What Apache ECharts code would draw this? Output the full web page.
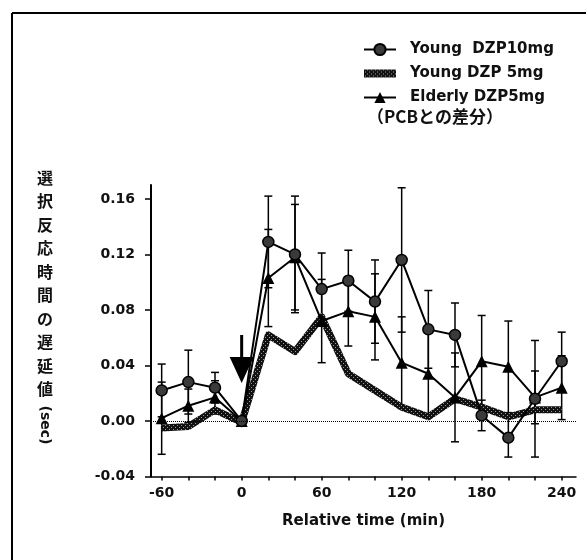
<!DOCTYPE html>
<html>
<head>
<meta charset="utf-8">
<script src="https://cdn.jsdelivr.net/npm/echarts@6/dist/echarts.min.js"></script>
<style>
html,body{margin:0;padding:0;background:#fff;}
#chart{width:586px;height:560px;}
</style>
</head>
<body>
<div id="chart"></div>
<script>
// ---- data ----
const times = [-60, -40, -20, 0, 20, 40, 60, 80, 100, 120, 140, 160, 180, 200, 220, 240];
const young10 = [0.022, 0.028, 0.024, 0.000, 0.129, 0.120, 0.095, 0.101, 0.086, 0.116, 0.066, 0.062, 0.004, -0.012, 0.016, 0.043];
const young10Err = [0.019, 0.023, 0.011, 0, 0.033, 0.042, 0.026, 0.022, 0.030, 0.052, 0.028, 0.023, 0.011, 0.014, 0.042, 0.021];
const young5 = [-0.005, -0.004, 0.008, -0.001, 0.062, 0.050, 0.075, 0.034, 0.022, 0.010, 0.003, 0.016, 0.010, 0.003, 0.008, 0.008];
const elderly5 = [0.002, 0.011, 0.017, 0.000, 0.103, 0.118, 0.072, 0.079, 0.075, 0.042, 0.034, 0.017, 0.043, 0.039, 0.017, 0.024];
const elderly5Err = [0.026, 0.012, 0.012, 0, 0.035, 0.038, 0.030, 0.025, 0.031, 0.033, 0.030, 0.032, 0.033, 0.033, 0.019, 0.023];
const seriesNames = ['Young  DZP10mg', 'Young DZP 5mg', 'Elderly DZP5mg'];
const xTickValues = [-60, -40, -20, 0, 20, 40, 60, 80, 100, 120, 140, 160, 180, 200, 220, 240];
const xLabelValues = [-60, 0, 60, 120, 180, 240];
const yTickValues = [-0.04, 0.00, 0.04, 0.08, 0.12, 0.16];
const arrowAt = [0, 0.0447];
const xTitle = 'Relative time (min)';
const yTitleChars = '選択反応時間の遅延値';
const yTitleUnit = '(sec)';
const legendNote = '（PCBとの差分）';

// ---- helpers ----
const LATIN = '"DejaVu Sans", "Liberation Sans", sans-serif';
const CJK = '"Noto Sans CJK JP", "Noto Sans CJK SC", sans-serif';

function makePattern() {
  const c = document.createElement('canvas');
  c.width = 4; c.height = 4;
  const g = c.getContext('2d');
  g.fillStyle = '#111';
  g.fillRect(0, 0, 4, 4);
  g.fillStyle = '#9a9a9a';
  g.fillRect(1, 1, 1, 1);
  g.fillRect(3, 3, 1, 1);
  return { image: c, repeat: 'repeat' };
}

function errRender(params, api) {
  const x = api.value(0), y = api.value(1), e = api.value(2);
  if (!e) return null;
  const top = api.coord([x, y + e]);
  const bot = api.coord([x, y - e]);
  const hw = 4;
  const st = { stroke: '#000', lineWidth: 1.5 };
  return {
    type: 'group',
    children: [
      { type: 'line', shape: { x1: top[0], y1: top[1], x2: bot[0], y2: bot[1] }, style: st },
      { type: 'line', shape: { x1: top[0] - hw, y1: top[1], x2: top[0] + hw, y2: top[1] }, style: st },
      { type: 'line', shape: { x1: bot[0] - hw, y1: bot[1], x2: bot[0] + hw, y2: bot[1] }, style: st }
    ]
  };
}

const chart = echarts.init(document.getElementById('chart'), null, { renderer: 'canvas' });
const pattern = makePattern();

const option = {
  animation: false,
  backgroundColor: '#fff',
  grid: { left: 151, right: 10, top: 185, bottom: 83.5 },
  legend: {
    orient: 'vertical',
    left: 363,
    top: 42,
    padding: 0,
    itemWidth: 32,
    itemHeight: 14,
    itemGap: 9,
    data: [
      { name: seriesNames[0] },
      { name: seriesNames[1], icon: 'path://M0,0 M0,3 L32,3 L32,11 L0,11 Z M32,14', itemStyle: { color: pattern } },
      { name: seriesNames[2] }
    ],
    selectedMode: false,
    textStyle: { fontFamily: LATIN, fontWeight: 'bold', fontSize: 15, color: '#111', padding: [0, 0, 0, 9] }
  },
  xAxis: {
    type: 'value',
    min: -68,
    max: 250.75,
    splitLine: { show: false },
    axisLine: { show: true, onZero: false, lineStyle: { color: '#000', width: 1.5 } },
    axisTick: { show: true, customValues: xTickValues, length: 4, lineStyle: { color: '#000', width: 1.5 } },
    axisLabel: { customValues: xLabelValues, margin: 10, fontFamily: LATIN, fontWeight: 'bold', fontSize: 14, color: '#111' },
    name: xTitle,
    nameLocation: 'middle',
    nameGap: 37,
    nameTextStyle: { fontFamily: LATIN, fontWeight: 'bold', fontSize: 15, color: '#111' }
  },
  yAxis: {
    type: 'value',
    min: -0.04,
    max: 0.17,
    splitLine: { show: false },
    axisLine: { show: true, onZero: false, lineStyle: { color: '#000', width: 2 } },
    axisTick: { show: true, customValues: yTickValues, length: 6, lineStyle: { color: '#000', width: 1.5 } },
    axisLabel: {
      customValues: yTickValues, margin: 16,
      formatter: v => v.toFixed(2),
      fontFamily: LATIN, fontWeight: 'bold', fontSize: 14, color: '#111'
    }
  },
  graphic: [
    { type: 'line', shape: { x1: 12, y1: 13, x2: 586, y2: 13 }, style: { stroke: '#000', lineWidth: 2 }, silent: true },
    { type: 'line', shape: { x1: 12, y1: 13, x2: 12, y2: 560 }, style: { stroke: '#000', lineWidth: 2 }, silent: true },
    {
      type: 'text', left: 37, top: 166,
      style: { text: yTitleChars.split('').join('\n'), font: 'bold 16px ' + CJK, lineHeight: 23.5, fill: '#111', align: 'center' }
    },
    {
      type: 'text', x: 45, y: 425, rotation: -Math.PI / 2,
      style: { text: yTitleUnit, font: 'bold 14px ' + LATIN, fill: '#111', align: 'center', verticalAlign: 'middle' }
    },
    {
      type: 'text', left: 367, top: 108,
      style: { text: legendNote, font: 'bold 17px ' + CJK, fill: '#111' }
    }
  ],
  series: [
    {
      name: 'err10', type: 'custom', renderItem: errRender, z: 1, silent: true,
      data: times.map((t, i) => [t, young10[i], young10Err[i]])
    },
    {
      name: 'errE', type: 'custom', renderItem: errRender, z: 1, silent: true,
      data: times.map((t, i) => [t, elderly5[i], elderly5Err[i]])
    },
    {
      name: seriesNames[1], type: 'line', z: 2,
      data: times.map((t, i) => [t, young5[i]]),
      symbol: 'none',
      color: pattern,
      lineStyle: { color: pattern, width: 7, join: 'round' },
      markLine: {
        silent: true, symbol: 'none', label: { show: false },
        lineStyle: { type: 'dotted', color: '#000', width: 1 },
        data: [{ yAxis: 0 }]
      },
      markPoint: {
        silent: true,
        label: { show: false },
        data: [{
          coord: arrowAt,
          symbol: 'path://M10.5,0 L13.5,0 L13.5,22 L24,22 L12,48 L0,22 L10.5,22 Z',
          symbolSize: [24, 48],
          itemStyle: { color: '#000' }
        }]
      }
    },
    {
      name: seriesNames[2], type: 'line', z: 3,
      data: times.map((t, i) => [t, elderly5[i]]),
      symbol: 'triangle', symbolSize: 12,
      color: '#000',
      itemStyle: { color: '#000' },
      lineStyle: { color: '#000', width: 2 }
    },
    {
      name: seriesNames[0], type: 'line', z: 4,
      data: times.map((t, i) => [t, young10[i]]),
      symbol: 'circle', symbolSize: 11,
      color: '#000',
      itemStyle: { color: '#3a3a3a', borderColor: '#000', borderWidth: 1.5 },
      lineStyle: { color: '#000', width: 2 }
    }
  ]
};
chart.setOption(option);
</script>
</body>
</html>
